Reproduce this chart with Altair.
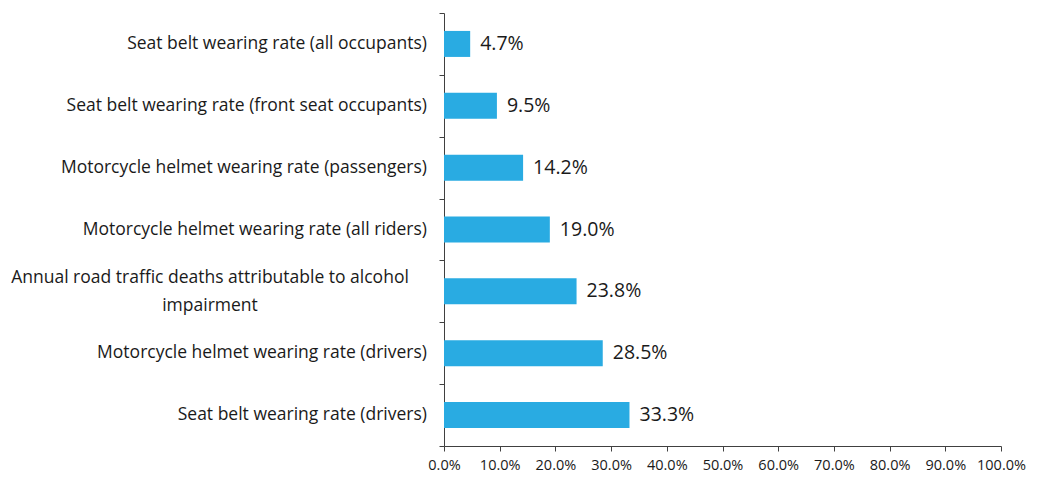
import altair as alt
import pandas as pd

categories = [
    "Seat belt wearing rate (all occupants)",
    "Seat belt wearing rate (front seat occupants)",
    "Motorcycle helmet wearing rate (passengers)",
    "Motorcycle helmet wearing rate (all riders)",
    "Annual road traffic deaths attributable to alcohol\nimpairment",
    "Motorcycle helmet wearing rate (drivers)",
    "Seat belt wearing rate (drivers)",
]
values = [0.047, 0.095, 0.142, 0.190, 0.238, 0.285, 0.333]
x_ticks = [i / 10 for i in range(11)]

df = pd.DataFrame({"category": categories, "value": values})
df["multi"] = df["category"].str.contains("\n")

y_enc = alt.Y(
    "category:N",
    sort=None,
    title=None,
    scale=alt.Scale(paddingInner=0, paddingOuter=0),
    axis=alt.Axis(
        tickBand="extent",
        domainColor="#404040",
        tickColor="#404040",
        tickSize=5,
        labels=False,
        grid=False,
    ),
)

x_enc = alt.X(
    "value:Q",
    title=None,
    scale=alt.Scale(domain=[0, 1], nice=False),
    axis=alt.Axis(
        values=x_ticks,
        format=".1%",
        grid=False,
        domainColor="#404040",
        tickColor="#404040",
        tickSize=5,
        labelFont="Open Sans",
        labelFontSize=14.5,
        labelColor="#1a1a1a",
        labelPadding=7,
        labelFlush=False,
    ),
)

base = alt.Chart(df)

bars = base.mark_bar(color="#29ABE2", size=26).encode(x=x_enc, y=y_enc)

values_text = base.mark_text(
    align="left", baseline="middle", dx=10, font="Open Sans", fontSize=19.5, color="#1a1a1a"
).encode(
    x=alt.X("value:Q"),
    y=alt.Y("category:N", sort=None),
    text=alt.Text("value:Q", format=".1%"),
)

cat_single = base.transform_filter("!datum.multi").mark_text(
    align="right", baseline="middle", font="Open Sans", fontSize=17.5, color="#1a1a1a"
).encode(
    x=alt.value(-17),
    y=alt.Y("category:N", sort=None),
    text="category:N",
)

cat_multi = base.transform_filter("datum.multi").mark_text(
    align="center", baseline="middle", font="Open Sans", fontSize=17.5, color="#1a1a1a",
    lineBreak="\n", lineHeight=28, dy=-13,
).encode(
    x=alt.value(-234),
    y=alt.Y("category:N", sort=None),
    text="category:N",
)

chart = (
    alt.layer(bars, values_text, cat_single, cat_multi)
    .properties(
        width=557,
        height=433,
        autosize=alt.AutoSizeParams(type="none"),
        padding={"left": 436, "top": 5, "right": 40, "bottom": 30},
        view=alt.ViewBackground(stroke="transparent", strokeWidth=0, strokeOpacity=0),
    )
    .configure_view(stroke="transparent", strokeWidth=0, strokeOpacity=0)
    .configure(background="white")
)

chart.save("out.html", embed_options={"renderer": "svg", "actions": False})
